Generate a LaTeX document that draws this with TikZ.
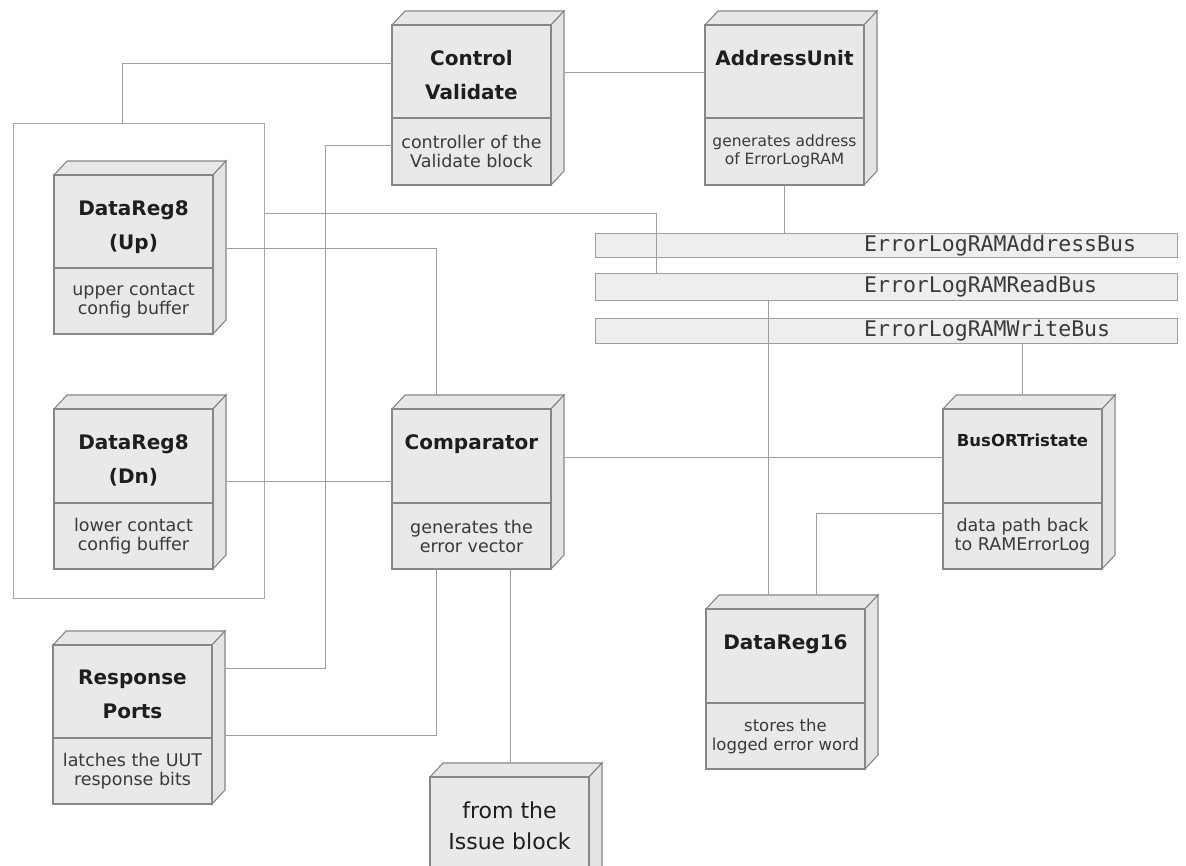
\documentclass[tikz,border=0pt]{standalone}
\usepackage{fontspec}
\setmainfont{DejaVu Sans}
\newfontfamily\busfont{DejaVu Sans Mono}
\definecolor{facefront}{HTML}{E9E9E9}
\definecolor{facetop}{HTML}{E7E7E7}
\definecolor{faceside}{HTML}{E4E4E4}
\definecolor{edgecol}{HTML}{878787}
\definecolor{wirecol}{HTML}{9E9E9E}
\definecolor{busfill}{HTML}{EEEEEE}
\definecolor{txtcol}{HTML}{1E1E1E}
\definecolor{desccol}{HTML}{3A3A3A}
\tikzset{
  boxface/.style={draw=edgecol, line width=1.1pt, line join=miter},
  wire/.style={draw=wirecol, line width=1pt},
  grpbox/.style={draw=wirecol!90, line width=1pt, inner sep=0pt, outer sep=0pt},
  busbox/.style={draw=wirecol, fill=busfill, line width=1pt, inner sep=0pt, outer sep=0pt},
  buslabel/.style={inner sep=0pt, text=desccol, font=\busfont\fontsize{21.5}{24}\selectfont},
  titletext/.style={inner sep=0pt, align=center, text=txtcol, font=\bfseries\fontsize{20}{34}\selectfont},
  desctext/.style={inner sep=0pt, align=center, text=desccol, font=\fontsize{17.5}{19}\selectfont},
  frame/.style={inner sep=0pt, outer sep=0pt, anchor=north west},
  au desc/.style={font=\fontsize{15.5}{18}\selectfont},
  bus title/.style={font=\bfseries\fontsize{16.5}{34}\selectfont},
  dr16 desc/.style={font=\fontsize{16.5}{19}\selectfont},
  iss title/.style={font=\mdseries\fontsize{22}{31}\selectfont}
}
% #1 name, #2 front-left x, #3 back-top y, #4 title height, #5 description height, #6 title, #7 description
\newcommand{\umlbox}[7]{%
  \node[frame, minimum width=172pt, minimum height={(#4+#5+14)*1pt}] (#1) at (#2,#3) {};
  \filldraw[boxface, fill=facetop] (#2,#3+14) -- (#2+13,#3) -- (#2+172,#3) -- (#2+159,#3+14) -- cycle;
  \filldraw[boxface, fill=faceside] (#2+159,#3+14) -- (#2+172,#3) -- (#2+172,#3+#4+#5) -- (#2+159,#3+14+#4+#5) -- cycle;
  \filldraw[boxface, fill=facefront] (#2,#3+14) rectangle (#2+159,#3+14+#4+#5);
  \draw[boxface] (#2,#3+14+#4) -- (#2+159,#3+14+#4);
  \node[titletext, #1 title/.try, anchor=north] (#1-title) at (#2+79.5,#3+39) {#6};
  \node[desctext, #1 desc/.try] (#1-desc) at (#2+79.5,#3+14+#4+#5/2) {#7};
}
\begin{document}
\begin{tikzpicture}[x=1pt,y=-1pt]
\useasboundingbox (0,0) rectangle (1186,865);
\fill[white] (0,0) rectangle (1186,865);
\clip (0,0) rectangle (1186,865);

% helper levels
\coordinate (h63) at (0,63);
\coordinate (h72) at (0,72);
\coordinate (h145) at (0,145);
\coordinate (h668) at (0,668);
\coordinate (h248) at (0,248);
\coordinate (h213) at (0,213);
\coordinate (h481) at (0,481);
\coordinate (h457) at (0,457);
\coordinate (h735) at (0,735);
\coordinate (h513) at (0,513);
\coordinate (v122) at (122,0);
\coordinate (v325) at (325,0);
\coordinate (v436) at (436,0);
\coordinate (v510) at (510,0);
\coordinate (v656) at (656,0);
\coordinate (v768) at (768,0);
\coordinate (v784) at (784,0);
\coordinate (v816) at (816,0);
\coordinate (v1022) at (1022,0);

% group frame
\node[grpbox, frame, minimum width=251pt, minimum height=475pt] (grp) at (13,123) {};

% buses
\node[busbox, frame, minimum width=582pt, minimum height=24pt] (abus) at (595,233) {};
\node[busbox, frame, minimum width=582pt, minimum height=27pt] (rbus) at (595,273) {};
\node[busbox, frame, minimum width=582pt, minimum height=25pt] (wbus) at (595,318) {};
\node[buslabel, anchor=west] (abusl) at (864,245.5) {ErrorLogRAMAddressBus};
\node[buslabel, anchor=west] (rbusl) at (864,287) {ErrorLogRAMReadBus};
\node[buslabel, anchor=west] (wbusl) at (864,331) {ErrorLogRAMWriteBus};

% boxes
\umlbox{cv}{392}{11}{93}{67}{Control\\Validate}{controller of the\\Validate block}
\umlbox{au}{705}{11}{93}{67}{AddressUnit}{generates address\\of ErrorLogRAM}
\umlbox{up}{54}{161}{93}{66}{DataReg8\\(Up)}{upper contact\\config buffer}
\umlbox{dn}{54}{395}{94}{66}{DataReg8\\(Dn)}{lower contact\\config buffer}
\umlbox{cmp}{392}{395}{94}{66}{Comparator}{generates the\\error vector}
\umlbox{bus}{943}{395}{94}{66}{BusORTristate}{data path back\\to RAMErrorLog}
\umlbox{dr16}{706}{595}{94}{66}{DataReg16}{stores the\\logged error word}
\umlbox{rp}{53}{631}{93}{66}{Response\\Ports}{latches the UUT\\response bits}
\umlbox{iss}{430}{763}{200}{0}{from the\\Issue block}{}

% connectors
\draw[wire] (cv.west |- h63) -| (v122 |- grp.north);
\draw[wire] (cv.east |- h72) -- (au.west |- h72);
\draw[wire] (cv.west |- h145) -| (v325 |- h668) -- (rp.east |- h668);
\draw[wire] (v784 |- au.south) -- (v784 |- abus.north);
\draw[wire] (up.east |- h248) -| (v436 |- cmp.north);
\draw[wire] (grp.east |- h213) -| (v656 |- rbus.north);
\draw[wire] (dn.east |- h481) -- (cmp.west |- h481);
\draw[wire] (cmp.east |- h457) -- (bus.west |- h457);
\draw[wire] (v436 |- cmp.south) |- (rp.east |- h735);
\draw[wire] (v510 |- cmp.south) -- (v510 |- iss.north);
\draw[wire] (v768 |- rbus.south) -- (v768 |- dr16.north);
\draw[wire] (v1022 |- wbus.south) -- (v1022 |- bus.north);
\draw[wire] (bus.west |- h513) -| (v816 |- dr16.north);
\end{tikzpicture}
\end{document}
